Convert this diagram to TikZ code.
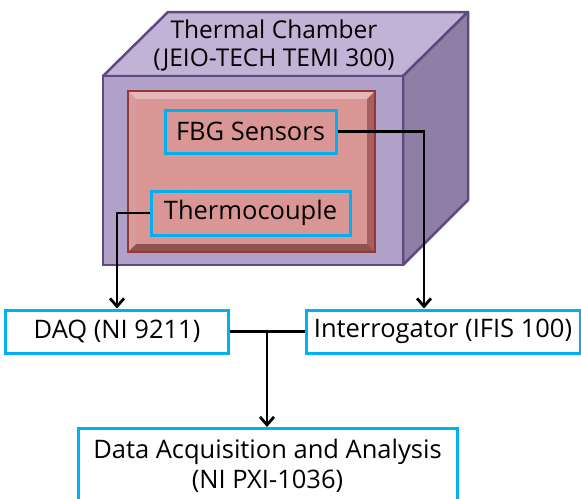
\documentclass[tikz,border=0pt]{standalone}
\usepackage{fontspec}
\setmainfont{Open Sans}
\usetikzlibrary{arrows.meta,positioning,calc}
\definecolor{chamberfront}{HTML}{B1A0C7}
\definecolor{chambertop}{HTML}{C1B3D6}
\definecolor{chamberside}{HTML}{8F7FA7}
\definecolor{chamberedge}{HTML}{5F4A80}
\definecolor{ovenfill}{HTML}{D99694}
\definecolor{ovenedge}{HTML}{953735}
\definecolor{ovenlight}{HTML}{E6B9B8}
\definecolor{ovendark}{HTML}{A8605E}
\definecolor{boxline}{HTML}{00B0F0}

\begin{document}
\begin{tikzpicture}[x=1pt,y=-1pt,
  cyanbox/.style={draw=boxline,line width=3pt,inner sep=0pt,align=center,font=\fontsize{25.5}{30}\selectfont},
  arr/.style={line width=2.8pt,-{Straight Barb[length=8pt,width=14pt,line width=2.8pt]}}]
\useasboundingbox (0,0) rectangle (581,498);
% chamber
\draw[chamberedge,line width=2.5pt,line join=round,fill=chambertop] (103,76) -- (168,12) -- (468,12) -- (403,76) -- cycle;
\draw[chamberedge,line width=2.5pt,line join=round,fill=chamberside] (403,76) -- (468,12) -- (468,200) -- (403,265) -- cycle;
\draw[chamberedge,line width=2.5pt,fill=chamberfront] (103,76) rectangle (403,265);
\node[align=center,font=\fontsize{24.5}{28}\selectfont] (title) at (274,45) {Thermal Chamber\\(JEIO-TECH TEMI 300)};
% oven box with bevel
\fill[ovenlight] (128,91) -- (375,91) -- (367,99) -- (136,99) -- cycle;
\fill[ovenlight!70!ovendark] (128,91) -- (136,99) -- (136,244) -- (128,252) -- cycle;
\fill[ovendark] (375,91) -- (375,252) -- (367,244) -- (367,99) -- cycle;
\fill[ovendark!85!black] (128,252) -- (375,252) -- (367,244) -- (136,244) -- cycle;
\fill[ovenfill] (136,99) rectangle (367,244);
\draw[ovenedge,line width=2.5pt] (128,91) rectangle (375,252);
% sensors
\node[cyanbox,minimum width=171pt,minimum height=43pt] (fbg) at (250.5,131.5) {FBG Sensors};
\node[cyanbox,minimum width=199pt,minimum height=44pt] (tc) at (250.5,213) {Thermocouple};
% instruments
\node[cyanbox,fill=white,minimum width=223pt,minimum height=43pt] (daq) at (117,331.5) {DAQ (NI 9211)};
\node[cyanbox,fill=white,minimum width=274pt,minimum height=43pt] (intg) at (443,331.5) {Interrogator (IFIS 100)};
\node[cyanbox,fill=white,minimum width=379pt,minimum height=74pt,anchor=north] (data) at (267.5,427) {Data Acquisition and Analysis\\(NI PXI-1036)};
% connectors
\coordinate (fbgturn) at (424,131.5);
\coordinate (tcturn) at (117,213);
\coordinate (join) at (267,332);
\draw[arr] (fbg.east) -- (fbgturn) -- (fbgturn |- intg.north);
\draw[arr] (tc.west) -- (tcturn) -- (tcturn |- daq.north);
\draw[line width=2.8pt] (daq.east) -- (intg.west);
\draw[arr] (join) -- (join |- data.north);
\end{tikzpicture}
\end{document}
